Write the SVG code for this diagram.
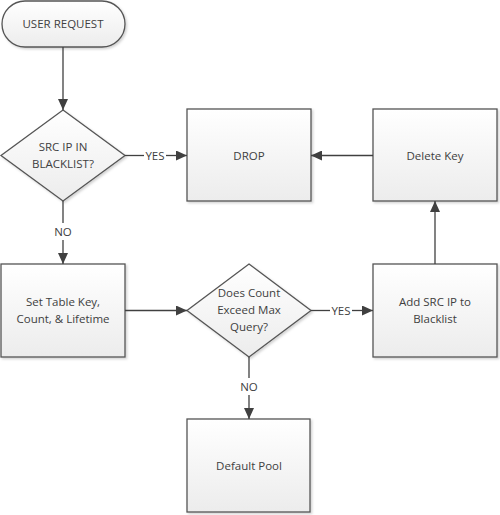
<svg xmlns="http://www.w3.org/2000/svg" width="500" height="515" viewBox="0 0 500 515">
<defs>
<linearGradient id="g" x1="0" y1="0" x2="0" y2="1">
<stop offset="0" stop-color="#ffffff"/>
<stop offset="1" stop-color="#ececec"/>
</linearGradient>
<filter id="sh" x="-10%" y="-10%" width="130%" height="130%">
<feDropShadow dx="1.5" dy="1.5" stdDeviation="1" flood-color="#000" flood-opacity="0.18"/>
</filter>
<marker id="ah" markerWidth="12" markerHeight="10" refX="11" refY="5" orient="auto" markerUnits="userSpaceOnUse">
<path d="M0,0 L11,5 L0,10 Z" fill="#404040"/>
</marker>
<style>
.s{fill:url(#g);stroke:#555;stroke-width:1.3;filter:url(#sh)}
.t{font-family:"Open Sans","Liberation Sans",sans-serif;font-size:11.5px;fill:#404040;text-anchor:middle}
.c{stroke:#404040;stroke-width:1.3;fill:none}
</style>
</defs>
<rect width="500" height="515" fill="#fff"/>
<g id="n_user">
<rect class="s" x="2" y="1" width="123" height="46" rx="23" ry="23"/>
<text class="t" x="63" y="28">USER REQUEST</text>
</g>
<g id="n_blacklist">
<polygon class="s" points="63,110 125,155.5 63,201 1,155.5"/>
<text class="t" x="63" y="151">SRC IP IN</text>
<text class="t" x="63" y="168">BLACKLIST?</text>
</g>
<g id="n_drop">
<rect class="s" x="187" y="109" width="124" height="92"/>
<text class="t" x="249" y="159.5">DROP</text>
</g>
<g id="n_delete">
<rect class="s" x="373" y="109" width="124" height="92"/>
<text class="t" x="435" y="159.5">Delete Key</text>
</g>
<g id="n_settable">
<rect class="s" x="1" y="264" width="124" height="93"/>
<text class="t" x="63" y="306">Set Table Key,</text>
<text class="t" x="63" y="323">Count, &amp; Lifetime</text>
</g>
<g id="n_exceed">
<polygon class="s" points="249,264 311,310.5 249,357 187,310.5"/>
<text class="t" x="249" y="297">Does Count</text>
<text class="t" x="249" y="314">Exceed Max</text>
<text class="t" x="249" y="331">Query?</text>
</g>
<g id="n_add">
<rect class="s" x="373" y="264" width="124" height="93"/>
<text class="t" x="435" y="306">Add SRC IP to</text>
<text class="t" x="435" y="323">Blacklist</text>
</g>
<g id="n_default">
<rect class="s" x="187" y="419" width="123" height="93"/>
<text class="t" x="249" y="469.5">Default Pool</text>
</g>
<g id="connectors">
<line class="c" x1="63" y1="47" x2="63" y2="110" marker-end="url(#ah)"/>
<line class="c" x1="125" y1="155.5" x2="144" y2="155.5"/>
<line class="c" x1="166" y1="155.5" x2="187" y2="155.5" marker-end="url(#ah)"/>
<text class="t" x="155" y="159.5">YES</text>
<line class="c" x1="63" y1="201" x2="63" y2="223"/>
<line class="c" x1="63" y1="240" x2="63" y2="264" marker-end="url(#ah)"/>
<text class="t" x="63" y="236">NO</text>
<line class="c" x1="125" y1="310.5" x2="187" y2="310.5" marker-end="url(#ah)"/>
<line class="c" x1="311" y1="310.5" x2="330" y2="310.5"/>
<line class="c" x1="352" y1="310.5" x2="373" y2="310.5" marker-end="url(#ah)"/>
<text class="t" x="341" y="314.5">YES</text>
<line class="c" x1="435" y1="264" x2="435" y2="201" marker-end="url(#ah)"/>
<line class="c" x1="373" y1="155.5" x2="311" y2="155.5" marker-end="url(#ah)"/>
<line class="c" x1="249" y1="357" x2="249" y2="378"/>
<line class="c" x1="249" y1="395" x2="249" y2="419" marker-end="url(#ah)"/>
<text class="t" x="249" y="391">NO</text>
</g>
</svg>
